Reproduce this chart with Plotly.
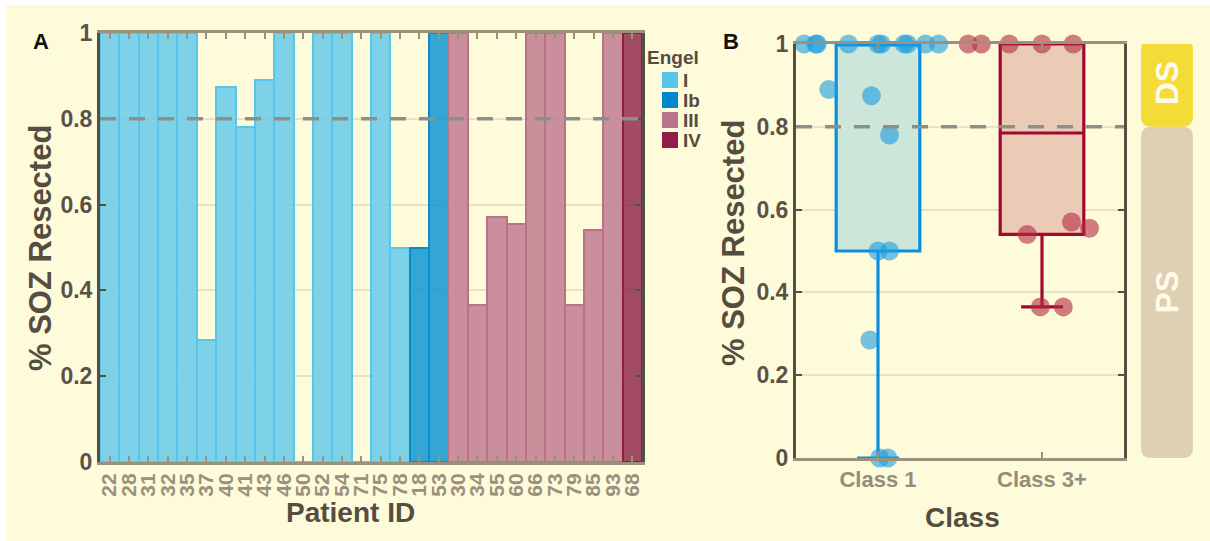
import plotly.graph_objects as go

# ---------------- data ----------------
patient_ids = ["22", "28", "31", "32", "35", "37", "40", "41", "43", "46", "50", "52", "54", "71",
               "75", "78", "18", "53", "30", "34", "55", "60", "66", "73", "79", "85", "93", "68"]
soz_resected = [1, 1, 1, 1, 1, 0.285, 0.875, 0.78, 0.89, 1, 0, 1, 1, 0,
                1, 0.5, 0.5, 1, 1, 0.365, 0.57, 0.555, 1, 1, 0.365, 0.54, 1, 1]
engel_class = ["I"] * 16 + ["Ib"] * 2 + ["III"] * 9 + ["IV"]
# horizontal spread of each patient's dot in the box plot (category units)
dot_spread = [-0.45, -0.38, -0.37, -0.18, 0.0, -0.05, -0.04, 0.07, -0.30, 0.02, 0.01, 0.16, 0.18, 0.06,
              0.29, 0.0, 0.07, 0.37, -0.45, -0.01, 0.18, 0.29, -0.37, -0.20, 0.13, -0.09, 0.0, 0.19]

engel_levels = ["I", "Ib", "III", "IV"]
class_names = ["Class 1", "Class 3+"]
class_of_engel = {"I": "Class 1", "Ib": "Class 1", "III": "Class 3+", "IV": "Class 3+"}
y_ticks = [0, 0.2, 0.4, 0.6, 0.8, 1]
y_tick_text = ["0", "0.2", "0.4", "0.6", "0.8", "1"]
threshold = 0.8

# ---------------- styling ----------------
W, H = 1210, 541
BG = "#fefbda"
bar_fill = {"I": "rgba(102,202,234,0.85)", "Ib": "rgba(15,150,210,0.85)",
            "III": "rgba(192,125,144,0.85)", "IV": "rgba(147,44,77,0.85)"}
bar_edge = {"I": "#5ac5ea", "Ib": "#0a8dd0", "III": "#ba7189", "IV": "#8e1e45"}
legend_swatch = {"I": "#58c5ea", "Ib": "#0088cc", "III": "#b8758c", "IV": "#8e1e45"}
box_line = {"Class 1": "#0a8fe0", "Class 3+": "#a00a30"}
box_fill = {"Class 1": "#cce6d9", "Class 3+": "#ebcbb5"}
dot_color = {"Class 1": "rgba(25,157,225,0.6)", "Class 3+": "rgba(178,42,66,0.6)"}
DARK = "#564e40"
LIGHT = "#9c917d"
FONT = "Liberation Sans"


def px_x(x):
    return x / W


def px_y(y):
    return 1 - y / H


def prctile(values, p):
    """Percentile using the (i-0.5)/n plotting positions."""
    v = sorted(values)
    n = len(v)
    pos = p / 100 * n + 0.5
    if pos <= 1:
        return v[0]
    if pos >= n:
        return v[-1]
    lo = int(pos)
    frac = pos - lo
    return v[lo - 1] + frac * (v[lo] - v[lo - 1])


fig = go.Figure()

# ---------------- panel A: bars per patient ----------------
fig.add_trace(go.Bar(
    x=patient_ids, y=soz_resected, width=1,
    marker=dict(color=[bar_fill[e] for e in engel_class],
                line=dict(color=[bar_edge[e] for e in engel_class], width=2)),
    xaxis="x", yaxis="y", showlegend=False, hoverinfo="x+y",
))

# ---------------- panel B: box plots with dots ----------------
for ci, cname in enumerate(class_names):
    pos = ci + 1
    vals = [v for v, e in zip(soz_resected, engel_class) if class_of_engel[e] == cname]
    spread = [s for s, e in zip(dot_spread, engel_class) if class_of_engel[e] == cname]
    q1, med, q3 = prctile(vals, 25), prctile(vals, 50), prctile(vals, 75)
    iqr = q3 - q1
    lo = min(v for v in vals if v >= q1 - 1.5 * iqr)
    hi = max(v for v in vals if v <= q3 + 1.5 * iqr)
    fig.add_trace(go.Box(
        x=[pos], q1=[q1], median=[med], q3=[q3], lowerfence=[lo], upperfence=[hi],
        width=0.51, whiskerwidth=0.5, fillcolor=box_fill[cname],
        line=dict(color=box_line[cname], width=3.2), boxpoints=False,
        xaxis="x2", yaxis="y2", showlegend=False,
    ))
    fig.add_trace(go.Scatter(
        x=[pos + s for s in spread], y=vals, mode="markers",
        marker=dict(size=19, color=dot_color[cname], line=dict(width=0)),
        cliponaxis=False, xaxis="x2", yaxis="y2", showlegend=False,
    ))

# ---------------- axes ----------------
tick_font = dict(family=FONT, size=23, color="#5a5246", weight="bold")
yaxis_common = dict(range=[0, 1], tickvals=y_ticks, ticktext=y_tick_text, showline=True,
                    linecolor=DARK, linewidth=3, mirror="ticks", ticks="inside", ticklen=6,
                    tickwidth=2, tickcolor=DARK, showgrid=True, gridcolor="#e8e2c6", gridwidth=2,
                    zeroline=False, tickfont=tick_font, fixedrange=True, automargin=False)
xaxis_common = dict(showline=True, linecolor=LIGHT, linewidth=3, mirror="ticks", ticks="inside",
                    ticklen=6, tickwidth=2, tickcolor=LIGHT, showgrid=False, zeroline=False,
                    fixedrange=True, automargin=False)

fig.update_layout(
    width=W, height=H, margin=dict(l=0, r=0, t=0, b=0, autoexpand=False),
    paper_bgcolor=BG, plot_bgcolor=BG,
    xaxis=dict(domain=[px_x(100), px_x(642)], anchor="y", type="category",
               categoryorder="array", categoryarray=patient_ids, range=[-0.5, len(patient_ids) - 0.5],
               tickmode="linear", tick0=0, dtick=1,
               tickangle=-90, tickfont=dict(family=FONT, size=21, color="#9a907e", weight="bold"),
               **xaxis_common),
    yaxis=dict(domain=[px_y(462), px_y(33)], anchor="x", **yaxis_common),
    xaxis2=dict(domain=[px_x(796), px_x(1124)], anchor="y2", range=[0.5, 2.5],
                tickvals=[1, 2], ticktext=class_names,
                tickfont=dict(family=FONT, size=22, color="#968c7b", weight="bold"),
                **xaxis_common),
    yaxis2=dict(domain=[px_y(458), px_y(44)], anchor="x2", **yaxis_common),
    bargap=0, boxmode="overlay",
)

shapes = []
# white frame strips along the top and left edge
shapes.append(dict(type="rect", xref="paper", yref="paper", x0=0, x1=px_x(6), y0=0, y1=1,
                   fillcolor="white", line=dict(width=0), layer="below"))
shapes.append(dict(type="rect", xref="paper", yref="paper", x0=0, x1=1, y0=px_y(5), y1=1,
                   fillcolor="white", line=dict(width=0), layer="below"))
# threshold lines
for xr, yr in (("x domain", "y"), ("x2 domain", "y2")):
    shapes.append(dict(type="line", xref=xr, yref=yr, x0=0, x1=1, y0=threshold, y1=threshold,
                       line=dict(color="#8d8f8a", width=3.5, dash="16px,13px"),
                       layer="above"))


# DS / PS side bar as rounded rectangles in panel B's y units
def rounded_rect(x0, x1, y0, y1, r_px):
    rx = r_px / W
    ry = r_px / 414
    xa, xb = px_x(x0), px_x(x1)
    return (f"M {xa + rx},{y1} L {xb - rx},{y1} Q {xb},{y1} {xb},{y1 - ry} "
            f"L {xb},{y0 + ry} Q {xb},{y0} {xb - rx},{y0} L {xa + rx},{y0} "
            f"Q {xa},{y0} {xa},{y0 + ry} L {xa},{y1 - ry} Q {xa},{y1} {xa + rx},{y1} Z")


side_bands = [("PS", 0.0, threshold, "#ddd0b3"), ("DS", threshold, 1.01, "#f3dc38")]
for label, lo, hi, col in side_bands:
    shapes.append(dict(type="path", xref="paper", yref="y2", path=rounded_rect(1141, 1193, lo, hi, 10),
                       fillcolor=col, line=dict(width=0), layer="above"))

# legend swatches
legend_rows = [80, 100, 120, 140]
for lvl, yc in zip(engel_levels, legend_rows):
    shapes.append(dict(type="rect", xref="paper", yref="paper", x0=px_x(662), x1=px_x(678),
                       y0=px_y(yc + 8), y1=px_y(yc - 8), fillcolor=legend_swatch[lvl],
                       line=dict(width=0)))

fig.update_layout(shapes=shapes)

ann = []


def text(x, y, s, size, color, angle=0, xanchor="center", height=None):
    a = dict(x=px_x(x), y=px_y(y), xref="paper", yref="paper", text=s, showarrow=False,
             textangle=angle, xanchor=xanchor, yanchor="middle", borderpad=0,
             font=dict(family=FONT, size=size, color=color, weight="bold"))
    if height:
        a["height"] = height
    ann.append(a)


text(41, 42, "A", 22, "#111111")
text(731, 42, "B", 22, "#111111")
text(40, 248, "% SOZ Resected", 31, "#554d40", angle=-90)
text(733, 243, "% SOZ Resected", 31, "#554d40", angle=-90)
text(350, 512, "Patient ID", 28, "#554d40")
text(962, 517, "Class", 28, "#554d40")
text(673, 57, "Engel", 19, "#554d40")
for lvl, yc in zip(engel_levels, legend_rows):
    text(682, yc, lvl, 19, "#554d40", xanchor="left", height=18)
for label, lo, hi, col in side_bands:
    ymid = 458 - (lo + hi) / 2 * 414
    text(1167, ymid, label, 32, "#fffbe8", angle=-90)

fig.update_layout(annotations=ann)

fig.write_html("out.html")
